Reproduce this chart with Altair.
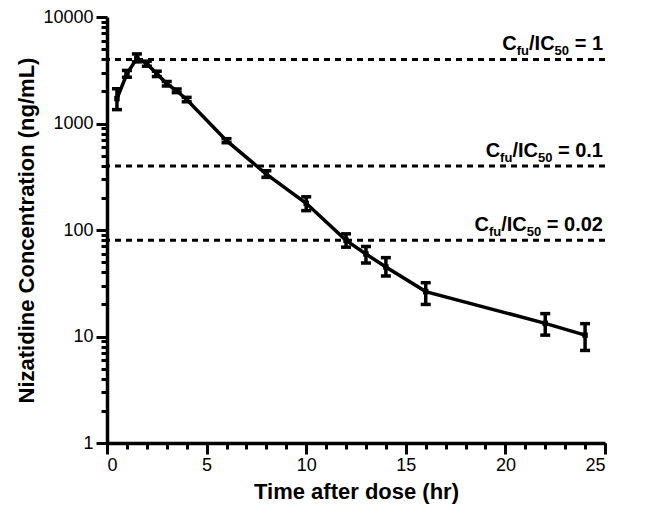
import altair as alt
import pandas as pd

# ---- data ----
time_hr = [0.5, 1, 1.5, 2, 2.5, 3, 3.5, 4, 6, 8, 10, 12, 13, 14, 16, 22, 24]
conc_mean = [1714, 2930, 4100, 3640, 2930, 2370, 2030, 1680, 690, 335, 178, 80, 59.5, 45, 26.4, 13.3, 10.3]
conc_lo = [1350, 2720, 3790, 3450, 2760, 2250, 1950, 1600, 660, 312, 152, 69, 49, 37, 20, 10.3, 7.4]
conc_hi = [2120, 3150, 4500, 3850, 3100, 2480, 2110, 1760, 720, 360, 205, 92, 70, 55, 32, 16.4, 13.2]

thr_values = [4000, 400, 80]
thr_suffix = [" = 1", " = 0.1", " = 0.02"]

x_major_ticks = [0, 5, 10, 15, 20, 25]
x_minor_ticks = list(range(0, 26))
y_major_ticks = [1, 10, 100, 1000, 10000]
y_minor_ticks = [m * d for d in [1, 10, 100, 1000] for m in range(2, 10)]

df = pd.DataFrame({"t": time_hr, "c": conc_mean, "lo": conc_lo, "hi": conc_hi})
thr = pd.DataFrame({"y": thr_values})

FONT = "Liberation Sans"
xs = alt.Scale(domain=[0, 25], nice=False, zero=False, padding=0)
ys = alt.Scale(type="log", domain=[1, 10000], nice=False, padding=0)

def xn(field="t"):
    return alt.X(f"{field}:Q", scale=xs, axis=None)

def yn(field="c"):
    return alt.Y(f"{field}:Q", scale=ys, axis=None)

base = alt.Chart(df)

# main axes carried by line layer
line = base.mark_line(color="black", strokeWidth=3.5).encode(
    x=alt.X("t:Q", scale=xs, axis=alt.Axis(values=x_major_ticks, tickSize=11,
                                             title="Time after dose (hr)", orient="bottom",
                                             labelPadding=2, titlePadding=7)),
    y=alt.Y("c:Q", scale=ys, axis=alt.Axis(values=y_major_ticks, tickSize=11, format="d",
                                             title="Nizatidine Concentration (ng/mL)", orient="left",
                                             labelPadding=3, titlePadding=4)),
)

# minor ticks layer (invisible marks)
minor = base.mark_point(opacity=0).encode(
    x=alt.X("t:Q", scale=xs, axis=alt.Axis(values=x_minor_ticks, tickSize=6, labels=False,
                                             domain=False, title=None, orient="bottom")),
    y=alt.Y("c:Q", scale=ys, axis=alt.Axis(values=y_minor_ticks, tickSize=6, labels=False,
                                             domain=False, title=None, orient="left")),
)

rules = alt.Chart(thr).mark_rule(color="black", strokeWidth=3, strokeDash=[6, 5]).encode(
    y=alt.Y("y:Q", scale=ys, axis=None)
)

err = base.mark_rule(color="black", strokeWidth=3.5).encode(
    x=xn(), y=yn("lo"), y2="hi:Q"
)
cap_lo = base.mark_tick(color="black", orient="horizontal", size=10, thickness=3.5, opacity=1).encode(
    x=xn(), y=yn("lo")
)
cap_hi = base.mark_tick(color="black", orient="horizontal", size=10, thickness=3.5, opacity=1).encode(
    x=xn(), y=yn("hi")
)
pts = base.mark_square(color="black", size=30, opacity=1).encode(x=xn(), y=yn())

# threshold labels built from pieces (with subscripts)
W = {'C': 722, 'f': 333, 'u': 611, '/': 278, 'I': 278, '5': 556, '0': 556, ' ': 278,
     '=': 584, '1': 556, '.': 278, '2': 556}

def tw(s, size):
    return sum(W[ch] for ch in s) * size / 1000.0

MAIN, SUB = 20, 13
text_layers = []
for yv, suf in zip(thr_values, thr_suffix):
    pieces = [("C", MAIN, False), ("fu", SUB, True), ("/IC", MAIN, False), ("50", SUB, True), (suf, MAIN, False)]
    offset = -2.0
    for txt, sz, sub in reversed(pieces):
        layer = alt.Chart(pd.DataFrame({"y": [yv], "x": [25], "txt": [txt]})).mark_text(
            align="right", baseline="alphabetic", font=FONT, fontWeight="bold", fontSize=sz,
            color="black", dx=offset, dy=(-4 if sub else -9)
        ).encode(x=alt.X("x:Q", scale=xs, axis=None), y=alt.Y("y:Q", scale=ys, axis=None), text="txt:N")
        text_layers.append(layer)
        offset -= tw(txt, sz)

chart = alt.layer(line, minor, rules, err, cap_lo, cap_hi, pts, *text_layers).resolve_axis(
    x="independent", y="independent"
).resolve_scale(x="shared", y="shared").properties(
    width=498, height=426,
    autosize=alt.AutoSizeParams(type="none"),
    padding={"left": 99, "top": 9, "right": 30, "bottom": 70},
).configure_view(stroke=None).configure_axis(
    grid=False, domainColor="black", domainWidth=3.5, tickColor="black", tickWidth=3,
    labelFont=FONT, labelFontSize=18, labelColor="black",
    titleFont=FONT, titleFontSize=22, titleFontWeight="bold", titleColor="black",
)

chart.save("out.html", embed_options={"renderer": "svg", "actions": False})
